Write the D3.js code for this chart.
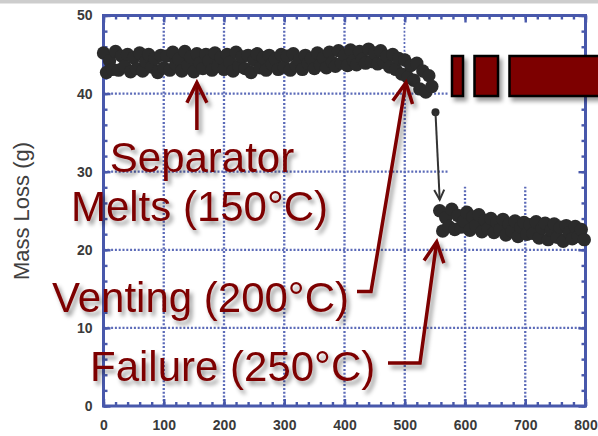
<!DOCTYPE html>
<html>
<head>
<meta charset="utf-8">
<script src="https://cdn.jsdelivr.net/npm/d3@7"></script>
<style>
    html, body { margin: 0; padding: 0; background: #fff; }
    svg { display: block; }
</style>
</head>
<body>
<svg></svg>
<script>
// Mass readings (time in s, mass in g)
const timeBefore = [
    0, 5, 10, 15, 20, 25, 30, 35, 40, 45,
    50, 55, 60, 65, 70, 75, 80, 85, 90, 95,
    100, 105, 110, 115, 120, 125, 130, 135, 140, 145,
    150, 155, 160, 165, 170, 175, 180, 185, 190, 195,
    200, 205, 210, 215, 220, 225, 230, 235, 240, 245,
    250, 255, 260, 265, 270, 275, 280, 285, 290, 295,
    300, 305, 310, 315, 320, 325, 330, 335, 340, 345,
    350, 355, 360, 365, 370, 375, 380, 385, 390, 395,
    400, 405, 410, 415, 420, 425, 430, 435, 440, 445,
    450, 455, 460, 465, 470, 475, 480, 485, 490, 495,
    500, 505, 510, 515, 520, 525, 530, 535, 540, 545
];
const massBefore = [
    45.2, 42.7, 44.2, 43.1, 45.4, 43.0, 44.8, 43.5, 45.0, 42.8,
    44.6, 43.2, 45.2, 42.9, 44.1, 45.0, 43.4, 44.5, 42.7, 44.9,
    43.3, 44.8, 43.0, 45.3, 43.8, 44.4, 42.9, 45.4, 43.6, 44.7,
    42.8, 45.1, 43.9, 43.2, 45.0, 44.2, 43.0, 45.2, 43.5, 44.6,
    43.1, 45.0, 44.0, 42.9, 45.3, 43.5, 44.7, 43.2, 44.9, 42.7,
    44.3, 45.1, 43.3, 44.6, 43.0, 44.9, 43.8, 44.4, 43.1, 45.0,
    43.4, 44.8, 43.0, 45.1, 43.6, 44.3, 43.1, 44.9, 43.9, 44.5,
    43.2, 45.2, 43.7, 44.6, 43.3, 45.3, 44.0, 43.5, 45.5, 43.9,
    44.9, 43.6, 45.6, 44.2, 43.7, 45.4, 44.4, 43.9, 45.7, 44.1,
    45.2, 43.8, 45.5, 44.0, 44.8, 43.4, 45.0, 43.1, 44.5, 42.5,
    44.3, 42.1, 43.6, 41.7, 43.9, 40.6, 42.9, 40.2, 42.3, 40.9
];
const timeJump = [551];
const massJump = [37.6];
const timeAfter = [
    558, 563, 568, 573, 578, 583, 588, 593, 598, 603,
    608, 613, 618, 623, 628, 633, 638, 643, 648, 653,
    658, 663, 668, 673, 678, 683, 688, 693, 698, 703,
    708, 713, 718, 723, 728, 733, 738, 743, 748, 753,
    758, 763, 768, 773, 778, 783, 788, 793, 798
];
const massAfter = [
    25.0, 22.4, 24.1, 23.0, 25.2, 22.6, 24.4, 22.9, 23.7, 24.8,
    22.5, 24.2, 23.1, 24.5, 22.3, 23.8, 22.7, 24.0, 22.2, 23.5,
    22.6, 23.9, 21.9, 23.3, 22.4, 23.7, 21.7, 22.9, 23.5, 22.0,
    23.2, 22.1, 23.6, 21.5, 22.8, 23.4, 21.3, 22.5, 23.3, 21.6,
    22.9, 21.1, 23.1, 22.2, 21.4, 23.0, 21.7, 22.6, 21.3
];

const xTickValues = [0, 100, 200, 300, 400, 500, 600, 700, 800];
const yTickValues = [0, 10, 20, 30, 40, 50];

// annotation texts and the point each one points at
const separatorLines = ["Separator", "Melts (150°C)"];
const separatorTarget = [155, 41.4];
const ventingLabel = "Venting (200°C)";
const ventingTarget = [502, 41.4];
const failureLabel = "Failure (250°C)";
const failureTarget = [553, 21.0];

function main() {
    const canvasWidth = 598;
    const canvasHeight = 436;
    const frameColor = "#4858ab";
    const gridColor = "#5b6ab8";
    const annoColor = "#7d0000";
    const font = "'Liberation Sans', Arial, Helvetica, sans-serif";

    let svg = d3.select("svg")
        .attr("width", canvasWidth)
        .attr("height", canvasHeight);

    let defs = svg.append("defs");
    defs.append("filter")
        .attr("id", "shadow")
        .attr("x", "-20%").attr("y", "-20%")
        .attr("width", "140%").attr("height", "160%")
        .append("feDropShadow")
        .attr("dx", 3).attr("dy", 4)
        .attr("stdDeviation", 2.2)
        .attr("flood-color", "#000")
        .attr("flood-opacity", 0.4);

    function chevron(id, color, len, half, width) {
        defs.append("marker")
            .attr("id", id)
            .attr("markerUnits", "userSpaceOnUse")
            .attr("viewBox", `${-len - 4} ${-half - 4} ${len + 10} ${2 * half + 8}`)
            .attr("markerWidth", len + 10)
            .attr("markerHeight", 2 * half + 8)
            .attr("refX", 0).attr("refY", 0)
            .attr("orient", "auto")
            .append("path")
            .attr("d", `M${-len},${-half} L0,0 L${-len},${half}`)
            .attr("fill", "none")
            .attr("stroke", color)
            .attr("stroke-width", width);
    }
    chevron("headRed", annoColor, 20, 10, 3.5);
    chevron("headBlack", "#333", 10, 5, 2);

    // thin grey strip along the top of the picture
    svg.append("rect")
        .attr("x", 0).attr("y", 0)
        .attr("width", canvasWidth).attr("height", 3.5)
        .attr("fill", "#cdcdcd");

    let x = d3.scaleLinear().domain([0, 800]).range([103.5, 585.5]);
    let y = d3.scaleLinear().domain([0, 50]).range([406, 15.5]);

    // dotted grid
    let grid = svg.append("g")
        .attr("stroke", gridColor)
        .attr("stroke-width", 2.3)
        .attr("stroke-dasharray", "2,1.8");
    grid.selectAll(".gx")
        .data(xTickValues.slice(1, -1))
        .join("line")
        .attr("x1", d => x(d)).attr("x2", d => x(d))
        .attr("y1", y(50)).attr("y2", y(0));
    grid.selectAll(".gy")
        .data(yTickValues.slice(1, -1))
        .join("line")
        .attr("y1", d => y(d)).attr("y2", d => y(d))
        .attr("x1", x(0)).attr("x2", x(800));

    // white patch pasted over the top right of the original figure
    svg.append("rect")
        .attr("x", x(572)).attr("y", y(49.7))
        .attr("width", x(797) - x(572)).attr("height", y(28.1) - y(49.7))
        .attr("fill", "#fff");
    svg.append("rect")
        .attr("x", x(501)).attr("y", y(49.7))
        .attr("width", x(572) - x(501)).attr("height", y(45.4) - y(49.7))
        .attr("fill", "#fff");
    grid.selectAll(".gpart")
        .data([600, 700])
        .join("line")
        .attr("x1", d => x(d)).attr("x2", d => x(d))
        .attr("y1", y(45.4)).attr("y2", y(35.2));

    // frame with inward ticks on all four sides
    svg.append("rect")
        .attr("x", x(0)).attr("y", y(50))
        .attr("width", x(800) - x(0)).attr("height", y(0) - y(50))
        .attr("fill", "none")
        .attr("stroke", frameColor)
        .attr("stroke-width", 3);

    function styleAxis(g) {
        g.select(".domain").remove();
        g.selectAll(".tick line").attr("stroke", frameColor).attr("stroke-width", 2.4);
        g.selectAll(".tick text")
            .attr("fill", "#3a3a3a")
            .attr("font-family", font)
            .attr("font-weight", "bold")
            .attr("font-size", 14);
    }

    svg.append("g").attr("transform", `translate(0, ${y(0)})`)
        .call(d3.axisBottom(x).tickValues(x.ticks(40)).tickSize(-4).tickFormat(""))
        .call(styleAxis);
    svg.append("g").attr("transform", `translate(0, ${y(0)})`)
        .call(d3.axisBottom(x).tickValues(xTickValues).tickSize(-7).tickPadding(14))
        .call(styleAxis);
    svg.append("g").attr("transform", `translate(0, ${y(50)})`)
        .call(d3.axisTop(x).tickValues(x.ticks(40)).tickSize(-4).tickFormat(""))
        .call(styleAxis);
    svg.append("g").attr("transform", `translate(0, ${y(50)})`)
        .call(d3.axisTop(x).tickValues(xTickValues).tickSize(-7).tickFormat(""))
        .call(styleAxis);
    svg.append("g").attr("transform", `translate(${x(0)}, 0)`)
        .call(d3.axisLeft(y).tickValues(y.ticks(25)).tickSize(-4).tickFormat(""))
        .call(styleAxis);
    svg.append("g").attr("transform", `translate(${x(0)}, 0)`)
        .call(d3.axisLeft(y).tickValues(yTickValues).tickSize(-7).tickPadding(11))
        .call(styleAxis);
    svg.append("g").attr("transform", `translate(${x(800)}, 0)`)
        .call(d3.axisRight(y).tickValues(y.ticks(25)).tickSize(-4).tickFormat(""))
        .call(styleAxis);
    svg.append("g").attr("transform", `translate(${x(800)}, 0)`)
        .call(d3.axisRight(y).tickValues(yTickValues).tickSize(-7).tickFormat(""))
        .call(styleAxis);

    // Y axis title
    svg.append("text")
        .text("Mass Loss (g)")
        .attr("transform", "translate(29, 211) rotate(-90)")
        .attr("text-anchor", "middle")
        .attr("font-family", font)
        .attr("font-size", 22)
        .attr("fill", "#404040");

    // measured points
    let points = [];
    timeBefore.forEach((t, i) => points.push([t, massBefore[i]]));
    timeJump.forEach((t, i) => points.push([t, massJump[i]]));
    timeAfter.forEach((t, i) => points.push([t, massAfter[i]]));

    svg.append("g")
        .selectAll("circle")
        .data(points)
        .join("circle")
        .attr("cx", d => x(d[0]))
        .attr("cy", d => y(d[1]))
        .attr("r", d => d[0] === timeJump[0] ? 4 : 6.7)
        .attr("fill", "#2b2b2b");

    // black arrow from the lone point down to the lower band
    svg.append("line")
        .attr("x1", x(timeJump[0])).attr("y1", y(massJump[0]))
        .attr("x2", x(timeAfter[0])).attr("y2", y(26.4))
        .attr("stroke", "#333")
        .attr("stroke-width", 2)
        .attr("marker-end", "url(#headBlack)");

    // dark red bars in the top right
    svg.append("g")
        .attr("filter", "url(#shadow)")
        .selectAll("rect")
        .data([[452, 463], [474.5, 498], [509.5, 610]])
        .join("rect")
        .attr("x", d => d[0]).attr("y", 56)
        .attr("width", d => d[1] - d[0]).attr("height", 40)
        .attr("fill", annoColor)
        .attr("stroke", "#000")
        .attr("stroke-width", 2.5);

    // annotations
    let anno = svg.append("g").attr("filter", "url(#shadow)");
    let line = d3.line();

    anno.append("path")
        .attr("d", line([[x(separatorTarget[0]), 130], [x(separatorTarget[0]), y(separatorTarget[1])]]))
        .attr("fill", "none").attr("stroke", annoColor).attr("stroke-width", 3.5)
        .attr("marker-end", "url(#headRed)");
    anno.append("path")
        .attr("d", line([[357, 291.5], [371, 291.5], [x(ventingTarget[0]), y(ventingTarget[1])]]))
        .attr("fill", "none").attr("stroke", annoColor).attr("stroke-width", 3.5)
        .attr("marker-end", "url(#headRed)");
    anno.append("path")
        .attr("d", line([[388, 363], [420, 363], [x(failureTarget[0]), y(failureTarget[1])]]))
        .attr("fill", "none").attr("stroke", annoColor).attr("stroke-width", 3.5)
        .attr("marker-end", "url(#headRed)");

    anno.selectAll(".sep")
        .data(separatorLines)
        .join("text")
        .text(d => d)
        .attr("x", (d, i) => i === 0 ? 202 : 199.5)
        .attr("y", (d, i) => i === 0 ? 172 : 221)
        .attr("text-anchor", "middle");
    anno.append("text").text(ventingLabel).attr("x", 52).attr("y", 312);
    anno.append("text").text(failureLabel).attr("x", 90).attr("y", 381);
    anno.selectAll("text")
        .attr("font-family", font)
        .attr("font-size", 42)
        .attr("fill", annoColor);
}

main();
</script>
</body>
</html>
